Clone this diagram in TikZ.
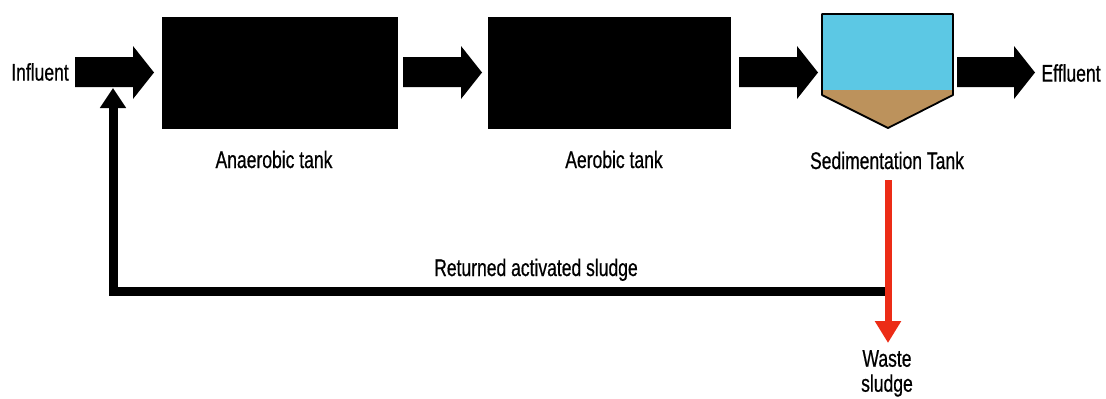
\documentclass[tikz,border=0pt]{standalone}
\usepackage{fontspec}
\setmainfont{Liberation Sans}[FakeStretch=0.73, FakeBold=0.6]
\usetikzlibrary{arrows.meta}

\definecolor{water}{RGB}{92,200,228}
\definecolor{mud}{RGB}{188,146,92}
\definecolor{wastered}{RGB}{236,44,22}

\begin{document}
\begin{tikzpicture}[x=1pt, y=-1pt, font=\fontsize{24}{25}\selectfont,
	txt/.style={inner sep=0pt},
	tank/.style={fill=black, draw=black, minimum height=111pt, inner sep=0pt}]
	\useasboundingbox (0,0) rectangle (1106,399);

	\coordinate[](inTip) at (113,88);
	\coordinate[](rasStart) at (888,291);
	\coordinate[](rasCorner) at (113,291);
	\coordinate[](wasteTop) at (888,180);
	\coordinate[](wasteTip) at (888,343);

	% Vasche
	\node[tank, minimum width=235pt] (anaerobic) at (279.5,72.5) {};
	\node[tank, minimum width=242pt] (aerobic) at (609,72.5) {};

	% Sedimentazione
	\fill[water] (822,14) -- (953,14) -- (953,90) -- (822,90) -- cycle;
	\fill[mud] (822,90) -- (953,90) -- (953,95) -- (888,128) -- (822,95) -- cycle;
	\draw[line width=1.8pt, line join=round] 
	(822,14) -- (953,14) -- (953,95) -- (888,128) -- (822,95) -- cycle;

	% Frecce
	\foreach \xa/\xb in {75/154, 403/482, 739/818, 957/1035}
	{
	\fill[black] (\xa,57) -- (\xb-21,57) -- (\xb-21,46) -- (\xb,72.5) 
	-- (\xb-21,99) -- (\xb-21,87) -- (\xa,87) -- cycle;
	}

	% Testi
	\node[txt] (influent) at (40,72) {Influent};
	\node[txt] (effluent) at (1071,73) {Effluent};
	\node[txt, anchor=base] (anaerobicLbl) at (274,168) {Anaerobic tank};
	\node[txt, anchor=base] (aerobicLbl) at (614,168) {Aerobic tank};
	\node[txt, anchor=base] (sedLbl) at (887,169) {Sedimentation Tank};
	\node[txt, anchor=base] (rasLbl) at (536,276) {Returned activated sludge};
	\node[txt, anchor=north, align=center] (waste) at (887,350) {Waste\\sludge};

	% Ricircolo
	\draw[line width=9pt, -{Triangle[length=20pt, width=25pt]}] 
	(rasStart) -- (rasCorner) -- (inTip);
	\draw[line width=7pt, draw=wastered, -{Triangle[length=22pt, width=25pt]}] 
	(wasteTop) -- (wasteTip);

\end{tikzpicture}
\end{document}
